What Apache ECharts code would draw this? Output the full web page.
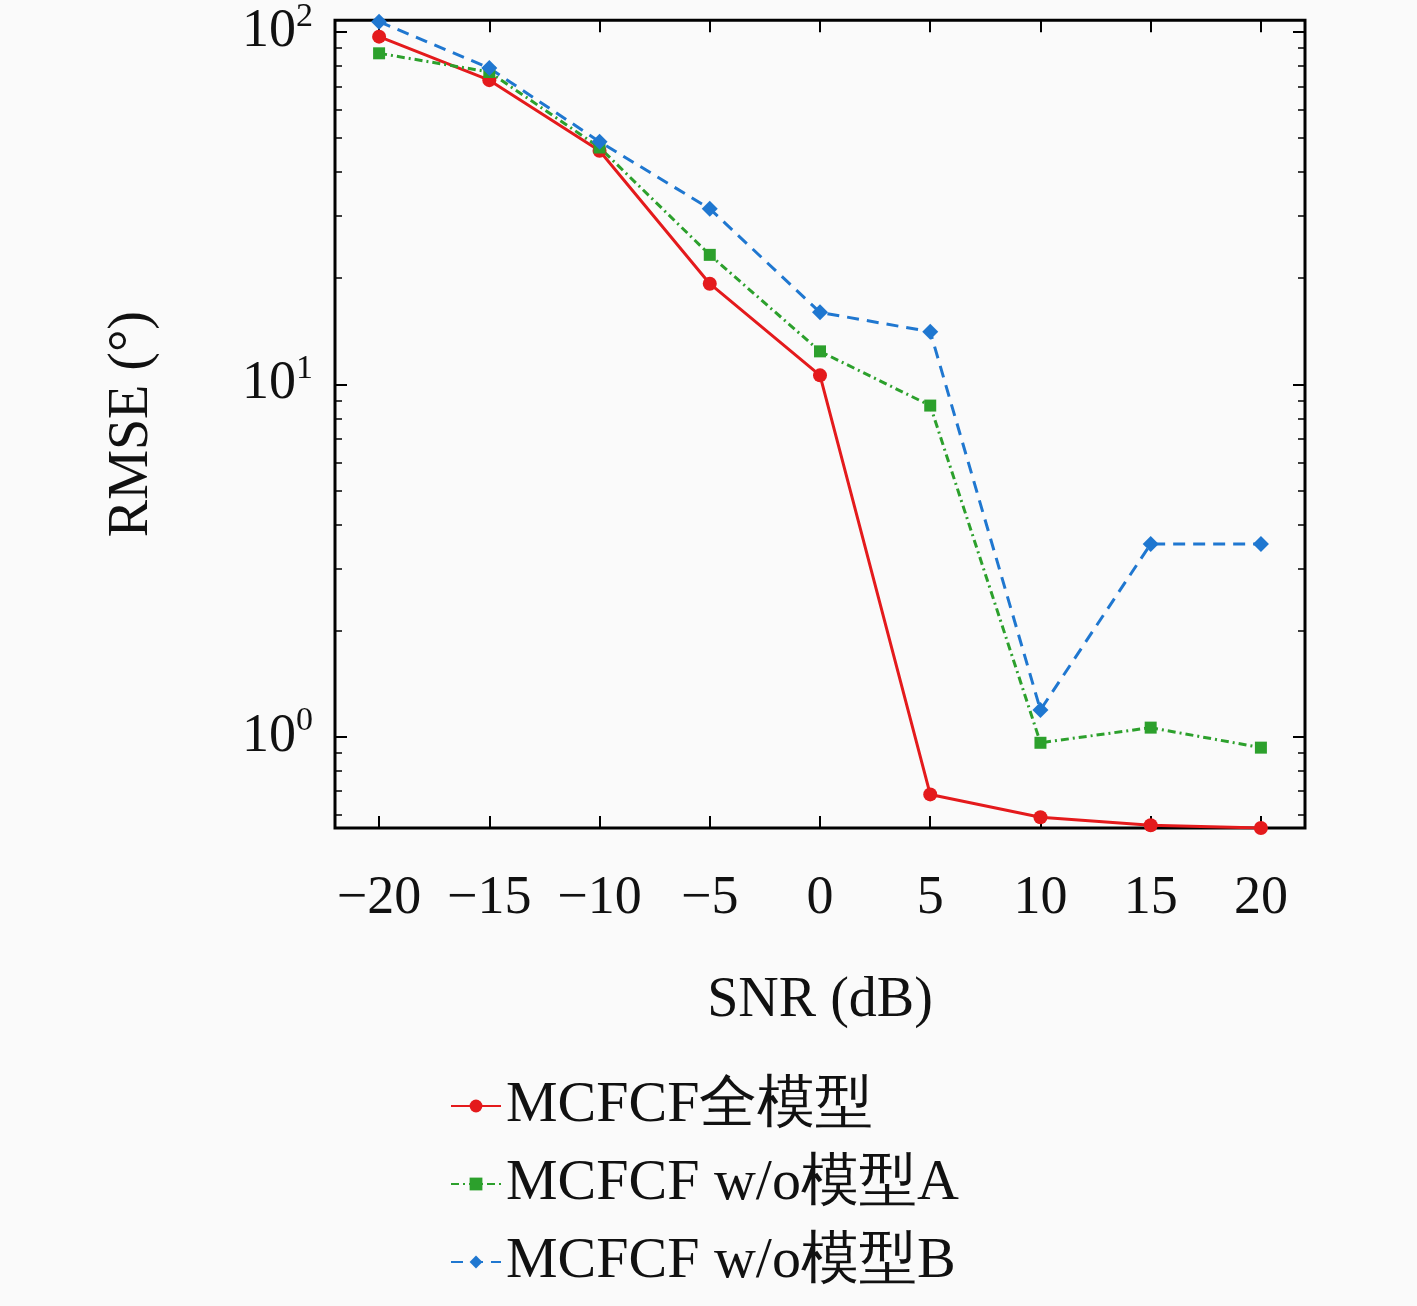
<html><head><meta charset="utf-8">
<script src="https://cdn.jsdelivr.net/npm/echarts@6/dist/echarts.min.js"></script>
<style>body{margin:0;background:#fafafa}#c{width:1417px;height:1306px}</style></head><body><div id="c"></div>
<script>
const snr=[-20,-15,-10,-5,0,5,10,15,20];
const full=[97,73,46,19.3,10.6,0.685,0.59,0.56,0.55];
const woA=[87,77,47,23.3,12.4,8.7,0.96,1.06,0.93];
const woB=[107,79,48.8,31.5,16,14.1,1.19,3.52,3.52];
const names=['MCFCF全模型','MCFCF w/o模型A','MCFCF w/o模型B'];
const majors=[1,10,100];
const minors=[];[0.1,1,10].forEach(d=>{for(let k=2;k<=9;k++){const v=+(d*k).toFixed(3);if(v>0.55&&v<108)minors.push(v);}});
const F='"Liberation Serif","DejaVu Serif",serif';
const c=echarts.init(document.getElementById('c'));
function ser(n,d,col,sym,type,ss){return{name:n,type:'line',data:snr.map((x,i)=>[x,d[i]]),color:col,symbol:sym,symbolSize:ss,lineStyle:{width:3,type:type},itemStyle:{color:col}};}
function dummy(i){return{type:'line',yAxisIndex:i,data:snr.map((x,k)=>[x,full[k]]),symbol:'none',silent:true,lineStyle:{opacity:0},legendHoverLink:false};}
const yBase={type:'log',logBase:10,min:0.55,max:108,splitLine:{show:false},axisLine:{show:false,onZero:false}};
c.setOption({backgroundColor:'#fafafa',animation:false,
grid:{left:335,top:18,width:970,height:810,show:true,borderColor:'#000',borderWidth:3,backgroundColor:'transparent'},
xAxis:[{type:'value',min:-22,max:22,axisLine:{show:false,onZero:false},splitLine:{show:false},
 axisTick:{inside:true,length:12,customValues:snr,lineStyle:{color:'#000',width:2}},
 axisLabel:{customValues:snr,fontFamily:F,fontSize:54,color:'#111',margin:44,formatter:v=>v<0?'\u2212'+(-v):''+v},
 name:'SNR (dB)',nameLocation:'middle',nameGap:145,nameTextStyle:{fontFamily:F,fontSize:56,color:'#111'}},
 {type:'value',min:-22,max:22,position:'top',axisLine:{show:false,onZero:false},splitLine:{show:false},axisLabel:{show:false},
 axisTick:{inside:true,length:12,customValues:snr,lineStyle:{color:'#000',width:2}}}],
yAxis:[Object.assign({},yBase,{axisTick:{inside:true,length:12,customValues:majors,lineStyle:{color:'#000',width:2}},
 axisLabel:{customValues:majors,fontFamily:F,color:'#111',margin:22,formatter:v=>'{b|10}{s|'+Math.round(Math.log10(v))+'}',rich:{b:{fontFamily:F,fontSize:54,color:'#111'},s:{fontFamily:F,fontSize:34,color:'#111',verticalAlign:'top',padding:[0,0,30,0]}}},
 name:'RMSE (°)',nameLocation:'middle',nameGap:175,nameTextStyle:{fontFamily:F,fontSize:56,color:'#111'}}),
 Object.assign({},yBase,{position:'right',axisLabel:{show:false},axisTick:{inside:true,length:12,customValues:majors,lineStyle:{color:'#000',width:2}}}),
 Object.assign({},yBase,{position:'left',axisLabel:{show:false},axisTick:{inside:true,length:7,customValues:minors,lineStyle:{color:'#000',width:1.5}}}),
 Object.assign({},yBase,{position:'right',axisLabel:{show:false},axisTick:{inside:true,length:7,customValues:minors,lineStyle:{color:'#000',width:1.5}}})],
legend:{orient:'vertical',left:445,top:1072,itemGap:20,itemWidth:50,itemHeight:16,textStyle:{fontFamily:F,fontSize:58,color:'#111'},data:names},
series:[ser(names[0],full,'#e41a1c','circle','solid',14),ser(names[1],woA,'#2ca02c','rect',[8,4,2,4],12),ser(names[2],woB,'#1f77d0','diamond',[12,8],16),dummy(1),dummy(2),dummy(3)]
});
</script></body></html>
